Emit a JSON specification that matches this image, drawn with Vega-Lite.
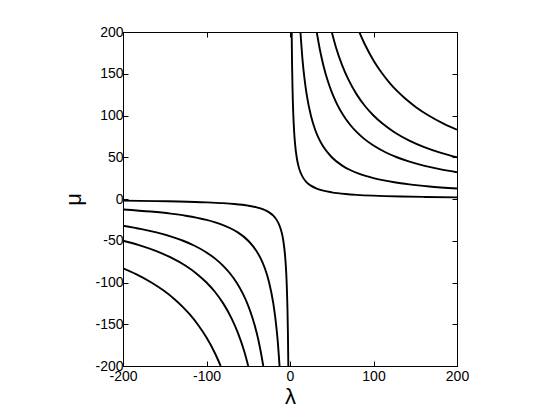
{
  "$schema": "https://vega.github.io/schema/vega-lite/v6.json",
  "width": 334,
  "height": 334,
  "autosize": {"type": "none"},
  "padding": {"left": 123, "top": 32, "right": 103, "bottom": 54},
  "background": "white",
  "config": {
    "view": {"stroke": "black", "strokeWidth": 1},
    "axis": {
      "grid": false,
      "domainColor": "black",
      "tickColor": "black",
      "labelColor": "black",
      "titleColor": "black",
      "labelFont": "Liberation Sans",
      "labelFontSize": 14,
      "titleFont": "Liberation Sans",
      "titleFontWeight": "normal",
      "titleFontSize": 22,
      "tickSize": -5,
      "labelPadding": 5,
      "labelFlush": false,
      "labelOverlap": false,
      "labelBound": false,
      "labelExpr": "'' + datum.value"
    }
  },
  "resolve": {"axis": {"x": "independent", "y": "independent"}},
  "data": {
    "values": [
      {"b": "1p", "l": 2, "m": 200}, {"b": "1p", "l": 2.5, "m": 160}, {"b": "1p", "l": 3, "m": 133.3}, {"b": "1p", "l": 4, "m": 100}, {"b": "1p", "l": 5, "m": 80}, {"b": "1p", "l": 6, "m": 66.7}, {"b": "1p", "l": 8, "m": 50}, {"b": "1p", "l": 10, "m": 40}, {"b": "1p", "l": 12.5, "m": 32}, {"b": "1p", "l": 16, "m": 25}, {"b": "1p", "l": 20, "m": 20}, {"b": "1p", "l": 25, "m": 16}, {"b": "1p", "l": 32, "m": 12.5}, {"b": "1p", "l": 40, "m": 10}, {"b": "1p", "l": 50, "m": 8}, {"b": "1p", "l": 66.7, "m": 6}, {"b": "1p", "l": 80, "m": 5}, {"b": "1p", "l": 100, "m": 4}, {"b": "1p", "l": 133.3, "m": 3}, {"b": "1p", "l": 160, "m": 2.5}, {"b": "1p", "l": 200, "m": 2},
      {"b": "2p", "l": 12.5, "m": 200}, {"b": "2p", "l": 15, "m": 166.7}, {"b": "2p", "l": 17.5, "m": 142.9}, {"b": "2p", "l": 20, "m": 125}, {"b": "2p", "l": 25, "m": 100}, {"b": "2p", "l": 30, "m": 83.3}, {"b": "2p", "l": 35, "m": 71.4}, {"b": "2p", "l": 40, "m": 62.5}, {"b": "2p", "l": 50, "m": 50}, {"b": "2p", "l": 62.5, "m": 40}, {"b": "2p", "l": 71.4, "m": 35}, {"b": "2p", "l": 83.3, "m": 30}, {"b": "2p", "l": 100, "m": 25}, {"b": "2p", "l": 125, "m": 20}, {"b": "2p", "l": 142.9, "m": 17.5}, {"b": "2p", "l": 166.7, "m": 15}, {"b": "2p", "l": 200, "m": 12.5},
      {"b": "3p", "l": 32, "m": 200}, {"b": "3p", "l": 36, "m": 177.8}, {"b": "3p", "l": 40, "m": 160}, {"b": "3p", "l": 45, "m": 142.2}, {"b": "3p", "l": 50, "m": 128}, {"b": "3p", "l": 56, "m": 114.3}, {"b": "3p", "l": 64, "m": 100}, {"b": "3p", "l": 72, "m": 88.9}, {"b": "3p", "l": 80, "m": 80}, {"b": "3p", "l": 88.9, "m": 72}, {"b": "3p", "l": 100, "m": 64}, {"b": "3p", "l": 114.3, "m": 56}, {"b": "3p", "l": 128, "m": 50}, {"b": "3p", "l": 142.2, "m": 45}, {"b": "3p", "l": 160, "m": 40}, {"b": "3p", "l": 177.8, "m": 36}, {"b": "3p", "l": 200, "m": 32},
      {"b": "4p", "l": 50, "m": 200}, {"b": "4p", "l": 55, "m": 181.8}, {"b": "4p", "l": 62.5, "m": 160}, {"b": "4p", "l": 70, "m": 142.9}, {"b": "4p", "l": 80, "m": 125}, {"b": "4p", "l": 90, "m": 111.1}, {"b": "4p", "l": 100, "m": 100}, {"b": "4p", "l": 111.1, "m": 90}, {"b": "4p", "l": 125, "m": 80}, {"b": "4p", "l": 142.9, "m": 70}, {"b": "4p", "l": 160, "m": 62.5}, {"b": "4p", "l": 181.8, "m": 55}, {"b": "4p", "l": 200, "m": 50},
      {"b": "5p", "l": 83, "m": 200}, {"b": "5p", "l": 90, "m": 184.4}, {"b": "5p", "l": 100, "m": 166}, {"b": "5p", "l": 110, "m": 150.9}, {"b": "5p", "l": 120, "m": 138.3}, {"b": "5p", "l": 128.8, "m": 128.8}, {"b": "5p", "l": 138.3, "m": 120}, {"b": "5p", "l": 150.9, "m": 110}, {"b": "5p", "l": 166, "m": 100}, {"b": "5p", "l": 184.4, "m": 90}, {"b": "5p", "l": 200, "m": 83},
      {"b": "1n", "l": -2, "m": -200}, {"b": "1n", "l": -2.5, "m": -160}, {"b": "1n", "l": -3, "m": -133.3}, {"b": "1n", "l": -4, "m": -100}, {"b": "1n", "l": -5, "m": -80}, {"b": "1n", "l": -6, "m": -66.7}, {"b": "1n", "l": -8, "m": -50}, {"b": "1n", "l": -10, "m": -40}, {"b": "1n", "l": -12.5, "m": -32}, {"b": "1n", "l": -16, "m": -25}, {"b": "1n", "l": -20, "m": -20}, {"b": "1n", "l": -25, "m": -16}, {"b": "1n", "l": -32, "m": -12.5}, {"b": "1n", "l": -40, "m": -10}, {"b": "1n", "l": -50, "m": -8}, {"b": "1n", "l": -66.7, "m": -6}, {"b": "1n", "l": -80, "m": -5}, {"b": "1n", "l": -100, "m": -4}, {"b": "1n", "l": -133.3, "m": -3}, {"b": "1n", "l": -160, "m": -2.5}, {"b": "1n", "l": -200, "m": -2},
      {"b": "2n", "l": -12.5, "m": -200}, {"b": "2n", "l": -15, "m": -166.7}, {"b": "2n", "l": -17.5, "m": -142.9}, {"b": "2n", "l": -20, "m": -125}, {"b": "2n", "l": -25, "m": -100}, {"b": "2n", "l": -30, "m": -83.3}, {"b": "2n", "l": -35, "m": -71.4}, {"b": "2n", "l": -40, "m": -62.5}, {"b": "2n", "l": -50, "m": -50}, {"b": "2n", "l": -62.5, "m": -40}, {"b": "2n", "l": -71.4, "m": -35}, {"b": "2n", "l": -83.3, "m": -30}, {"b": "2n", "l": -100, "m": -25}, {"b": "2n", "l": -125, "m": -20}, {"b": "2n", "l": -142.9, "m": -17.5}, {"b": "2n", "l": -166.7, "m": -15}, {"b": "2n", "l": -200, "m": -12.5},
      {"b": "3n", "l": -32, "m": -200}, {"b": "3n", "l": -36, "m": -177.8}, {"b": "3n", "l": -40, "m": -160}, {"b": "3n", "l": -45, "m": -142.2}, {"b": "3n", "l": -50, "m": -128}, {"b": "3n", "l": -56, "m": -114.3}, {"b": "3n", "l": -64, "m": -100}, {"b": "3n", "l": -72, "m": -88.9}, {"b": "3n", "l": -80, "m": -80}, {"b": "3n", "l": -88.9, "m": -72}, {"b": "3n", "l": -100, "m": -64}, {"b": "3n", "l": -114.3, "m": -56}, {"b": "3n", "l": -128, "m": -50}, {"b": "3n", "l": -142.2, "m": -45}, {"b": "3n", "l": -160, "m": -40}, {"b": "3n", "l": -177.8, "m": -36}, {"b": "3n", "l": -200, "m": -32},
      {"b": "4n", "l": -50, "m": -200}, {"b": "4n", "l": -55, "m": -181.8}, {"b": "4n", "l": -62.5, "m": -160}, {"b": "4n", "l": -70, "m": -142.9}, {"b": "4n", "l": -80, "m": -125}, {"b": "4n", "l": -90, "m": -111.1}, {"b": "4n", "l": -100, "m": -100}, {"b": "4n", "l": -111.1, "m": -90}, {"b": "4n", "l": -125, "m": -80}, {"b": "4n", "l": -142.9, "m": -70}, {"b": "4n", "l": -160, "m": -62.5}, {"b": "4n", "l": -181.8, "m": -55}, {"b": "4n", "l": -200, "m": -50},
      {"b": "5n", "l": -83, "m": -200}, {"b": "5n", "l": -90, "m": -184.4}, {"b": "5n", "l": -100, "m": -166}, {"b": "5n", "l": -110, "m": -150.9}, {"b": "5n", "l": -120, "m": -138.3}, {"b": "5n", "l": -128.8, "m": -128.8}, {"b": "5n", "l": -138.3, "m": -120}, {"b": "5n", "l": -150.9, "m": -110}, {"b": "5n", "l": -166, "m": -100}, {"b": "5n", "l": -184.4, "m": -90}, {"b": "5n", "l": -200, "m": -83}
    ]
  },
  "layer": [
    {
      "mark": {"type": "line", "color": "black", "strokeWidth": 1.9, "interpolate": "monotone", "clip": true},
      "encoding": {
        "x": {"field": "l", "type": "quantitative", "scale": {"domain": [-200, 200], "nice": false},
              "axis": {"orient": "bottom", "values": [-200, -100, 0, 100, 200], "title": "λ", "titlePadding": 3, "labelPadding": 8}},
        "y": {"field": "m", "type": "quantitative", "scale": {"domain": [-200, 200], "nice": false},
              "axis": {"orient": "left", "values": [-200, -150, -100, -50, 0, 50, 100, 150, 200], "title": "μ", "titlePadding": 9}},
        "detail": {"field": "b", "type": "nominal"}
      }
    },
    {
      "mark": {"type": "line", "strokeOpacity": 0},
      "encoding": {
        "x": {"field": "l", "type": "quantitative",
              "axis": {"orient": "top", "values": [-200, -100, 0, 100, 200], "labels": false, "title": null}},
        "y": {"field": "m", "type": "quantitative",
              "axis": {"orient": "right", "values": [-200, -150, -100, -50, 0, 50, 100, 150, 200], "labels": false, "title": null}},
        "detail": {"field": "b", "type": "nominal"}
      }
    }
  ]
}
